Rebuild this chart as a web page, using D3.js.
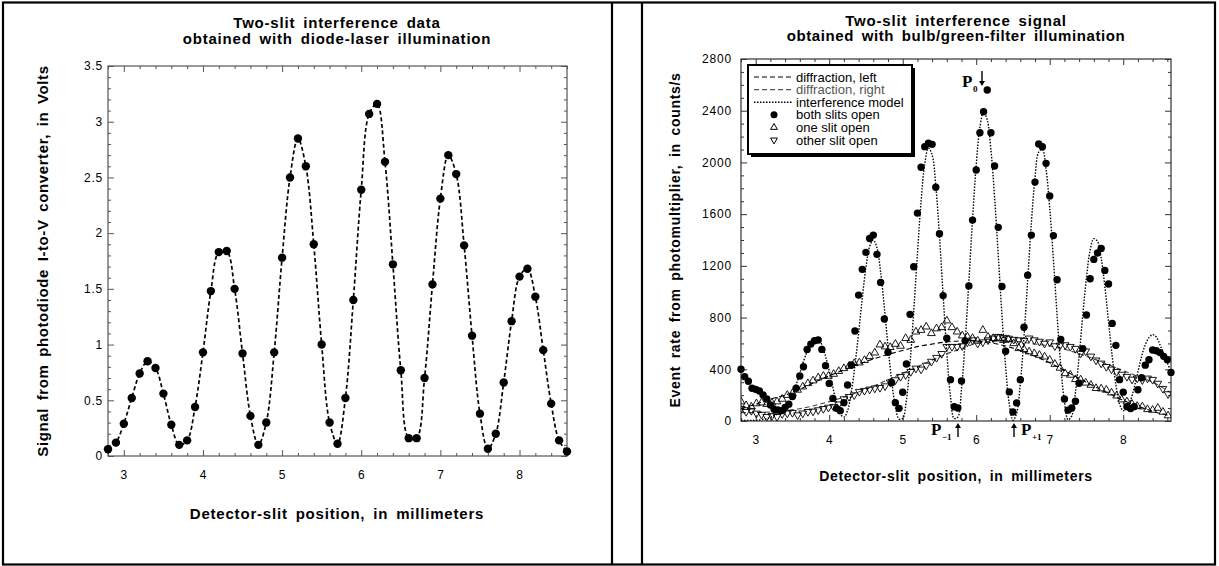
<!DOCTYPE html>
<html>
<head>
<meta charset="utf-8">
<script src="https://cdn.jsdelivr.net/npm/d3@7"></script>
<style>
  body { margin: 0; background: #fff; }
  svg { display: block; font-family: "Liberation Sans", Arial, Helvetica, sans-serif; }
</style>
</head>
<body>
<svg width="1219" height="566"></svg>
<script>
// ---- left panel: diode-laser data (V vs mm) ----
const laserPos = [2.8, 2.9, 3.0, 3.1, 3.2, 3.3, 3.4, 3.5, 3.6, 3.7, 3.8, 3.9,
  4.0, 4.1, 4.2, 4.3, 4.4, 4.5, 4.6, 4.7, 4.8, 4.9, 5.0, 5.1, 5.2, 5.3, 5.4,
  5.5, 5.6, 5.7, 5.8, 5.9, 6.0, 6.1, 6.2, 6.3, 6.4, 6.5, 6.6, 6.7, 6.8, 6.9,
  7.0, 7.1, 7.2, 7.3, 7.4, 7.5, 7.6, 7.7, 7.8, 7.9, 8.0, 8.1, 8.2, 8.3, 8.4,
  8.5, 8.6];
const laserVolts = [0.06, 0.12, 0.29, 0.52, 0.74, 0.85, 0.79, 0.56, 0.28, 0.10,
  0.14, 0.44, 0.93, 1.48, 1.83, 1.84, 1.50, 0.92, 0.36, 0.10, 0.30, 0.93, 1.78,
  2.50, 2.85, 2.60, 1.90, 1.00, 0.30, 0.11, 0.52, 1.40, 2.39, 3.07, 3.16, 2.64,
  1.72, 0.77, 0.16, 0.16, 0.70, 1.54, 2.31, 2.70, 2.53, 1.89, 1.08, 0.38, 0.065,
  0.20, 0.66, 1.21, 1.61, 1.68, 1.43, 0.95, 0.47, 0.14, 0.04];
const laserYTicks = [0, 0.5, 1, 1.5, 2, 2.5, 3, 3.5];
const xTicks = [3, 4, 5, 6, 7, 8];

// ---- right panel: bulb / green filter data (counts/s vs mm) ----
// both slits open [mm, counts/s]
const bothSlits = [[2.80,400],[2.85,343],[2.90,307],[2.95,253],[3.00,245],[3.05,232],
  [3.10,201],[3.15,170],[3.20,124],[3.25,90],[3.30,85],[3.35,80],[3.40,105],[3.45,130],
  [3.50,190],[3.55,253],[3.60,348],[3.65,420],[3.70,554],[3.75,595],[3.80,621],[3.85,626],
  [3.90,554],[3.95,428],[4.00,291],[4.05,175],[4.10,98],[4.15,80],[4.20,142],[4.25,278],
  [4.30,433],[4.35,696],[4.40,974],[4.45,1173],[4.50,1304],[4.55,1412],[4.60,1438],
  [4.65,1289],[4.70,1072],[4.75,789],[4.80,531],[4.85,296],[4.90,142],[4.95,98],
  [5.00,222],[5.05,441],[5.10,825],[5.15,1193],[5.20,1608],[5.25,1963],[5.30,2122],
  [5.35,2148],[5.40,2140],[5.45,1808],[5.50,1448],[5.55,970],[5.60,640],[5.65,320],
  [5.70,110],[5.75,100],[5.80,310],[5.85,620],[5.90,1045],[5.95,1554],[6.00,1941],
  [6.05,2230],[6.10,2392],[6.15,2560],[6.20,2230],[6.25,1972],[6.30,1498],[6.35,1040],
  [6.40,540],[6.45,225],[6.50,70],[6.55,140],[6.60,320],[6.65,725],[6.70,1128],
  [6.75,1438],[6.80,1848],[6.85,2142],[6.90,2121],[6.95,1993],[7.00,1740],[7.05,1434],
  [7.10,1092],[7.15,630],[7.20,170],[7.25,84],[7.30,100],[7.35,153],[7.40,292],
  [7.45,560],[7.50,820],[7.55,1100],[7.60,1250],[7.65,1300],[7.70,1335],[7.75,1165],
  [7.80,1060],[7.85,755],[7.90,585],[7.95,320],[8.00,223],[8.05,111],[8.10,97],
  [8.15,111],[8.20,242],[8.25,334],[8.30,432],[8.35,474],[8.40,549],[8.45,543],
  [8.50,529],[8.55,500],[8.60,474],[8.65,376]];

// one slit open (triangles up)
const oneSlit = [[2.80,150],[2.87,120],[2.94,110],[3.01,135],[3.08,142],[3.15,130],
  [3.22,140],[3.29,150],[3.36,170],[3.43,200],[3.50,214],[3.57,240],[3.64,265],[3.71,291],
  [3.78,312],[3.85,335],[3.92,348],[3.99,348],[4.06,363],[4.13,385],[4.20,407],[4.27,425],
  [4.34,446],[4.41,451],[4.48,470],[4.55,500],[4.62,528],[4.69,590],[4.76,575],[4.83,570],
  [4.90,595],[4.97,580],[5.04,640],[5.11,626],[5.18,690],[5.25,703],[5.32,729],[5.39,678],
  [5.46,715],[5.53,724],[5.60,776],[5.67,724],[5.74,690],[5.81,660],[5.88,652],[5.95,640],
  [6.02,620],[6.09,703],[6.16,650],[6.23,640],[6.30,639],[6.37,625],[6.44,631],[6.51,600],
  [6.58,562],[6.65,555],[6.72,536],[6.79,523],[6.86,510],[6.93,497],[7.00,472],[7.07,440],
  [7.14,410],[7.21,368],[7.28,356],[7.35,322],[7.42,320],[7.49,295],[7.56,278],[7.63,253],
  [7.70,250],[7.77,240],[7.84,219],[7.91,195],[7.98,165],[8.05,150],[8.12,131],[8.19,115],
  [8.26,111],[8.33,90],[8.40,85],[8.47,100],[8.54,70],[8.61,42]];

// other slit open (triangles down)
const otherSlit = [[2.80,95],[2.87,72],[2.94,80],[3.01,59],[3.08,50],[3.15,33],[3.22,40],
  [3.29,33],[3.36,55],[3.43,60],[3.50,64],[3.57,46],[3.64,60],[3.71,72],[3.78,75],[3.85,85],
  [3.92,95],[3.99,105],[4.06,111],[4.13,130],[4.20,170],[4.27,188],[4.34,201],[4.41,227],
  [4.48,235],[4.55,245],[4.62,253],[4.69,258],[4.76,270],[4.83,300],[4.90,317],[4.97,343],
  [5.04,356],[5.11,381],[5.18,407],[5.25,400],[5.32,430],[5.39,460],[5.46,490],[5.53,520],
  [5.60,575],[5.67,575],[5.74,575],[5.81,580],[5.88,610],[5.95,626],[6.02,600],[6.09,610],
  [6.16,626],[6.23,640],[6.30,652],[6.37,645],[6.44,639],[6.51,630],[6.58,626],[6.65,621],
  [6.72,640],[6.79,626],[6.86,615],[6.93,600],[7.00,610],[7.07,580],[7.14,585],[7.21,588],
  [7.28,575],[7.35,560],[7.42,523],[7.49,540],[7.56,500],[7.63,470],[7.70,446],[7.77,420],
  [7.84,400],[7.91,381],[7.98,360],[8.05,343],[8.12,322],[8.19,330],[8.26,317],[8.33,330],
  [8.40,320],[8.47,290],[8.54,250],[8.61,209]];

// model curves
const diffLeft = [[2.8,95],[3.0,130],[3.2,170],[3.4,200],[3.6,245],[3.8,300],[4.0,350],
  [4.2,395],[4.4,440],[4.6,480],[4.8,515],[5.0,545],[5.2,575],[5.4,595],[5.6,612],
  [5.8,620],[6.0,618],[6.2,605],[6.4,580],[6.6,545],[6.8,500],[7.0,450],[7.2,390],
  [7.4,330],[7.6,270],[7.8,215],[8.0,160],[8.2,115],[8.4,75],[8.6,45],[8.65,40]];
const diffRight = [[2.8,65],[3.0,65],[3.2,70],[3.4,80],[3.6,95],[3.8,120],[4.0,150],
  [4.2,185],[4.4,225],[4.6,270],[4.8,320],[5.0,370],[5.2,420],[5.4,470],[5.6,520],
  [5.8,560],[6.0,600],[6.2,615],[6.4,620],[6.6,612],[6.8,595],[7.0,580],[7.2,555],
  [7.4,520],[7.6,480],[7.8,435],[8.0,390],[8.2,345],[8.4,300],[8.6,235],[8.65,215]];
const interference = [[2.80,5],[2.85,5],[2.90,5],[2.95,5],[3.00,5],[3.05,8],[3.10,12],
  [3.15,18],[3.20,28],[3.25,40],[3.30,55],[3.35,75],[3.40,100],[3.45,140],[3.50,200],
  [3.55,280],[3.60,370],[3.65,460],[3.70,540],[3.75,600],[3.80,635],[3.85,635],[3.90,590],
  [3.95,500],[4.00,390],[4.05,260],[4.10,140],[4.15,55],[4.20,30],[4.25,80],[4.30,220],
  [4.35,430],[4.40,680],[4.45,950],[4.50,1190],[4.55,1350],[4.60,1400],[4.65,1340],
  [4.70,1150],[4.75,880],[4.80,580],[4.85,310],[4.90,110],[4.95,15],[5.00,20],[5.05,160],
  [5.10,450],[5.15,850],[5.20,1290],[5.25,1700],[5.30,1990],[5.35,2110],[5.40,2060],
  [5.45,1820],[5.50,1430],[5.55,970],[5.60,530],[5.65,190],[5.70,20],[5.75,30],[5.80,250],
  [5.85,620],[5.90,1080],[5.95,1560],[6.00,1980],[6.05,2270],[6.10,2390],[6.15,2330],
  [6.20,2100],[6.25,1730],[6.30,1280],[6.35,820],[6.40,420],[6.45,130],[6.50,5],[6.55,60],
  [6.60,290],[6.65,650],[6.70,1090],[6.75,1530],[6.80,1880],[6.85,2080],[6.90,2100],
  [6.95,1950],[7.00,1650],[7.05,1250],[7.10,820],[7.15,430],[7.20,150],[7.25,10],[7.30,40],
  [7.35,220],[7.40,500],[7.45,820],[7.50,1110],[7.55,1320],[7.60,1410],[7.65,1390],
  [7.70,1260],[7.75,1040],[7.80,770],[7.85,500],[7.90,280],[7.95,130],[8.00,80],[8.05,100],
  [8.10,160],[8.15,260],[8.20,380],[8.25,500],[8.30,590],[8.35,645],[8.40,668],[8.45,650],
  [8.50,590],[8.55,520],[8.60,450],[8.65,380]];
const bulbYTicks = [0, 400, 800, 1200, 1600, 2000, 2400, 2800];

const legendItems = [
  { label: 'diffraction, left', kind: 'dash', color: '#000' },
  { label: 'diffraction, right', kind: 'dash', color: '#555' },
  { label: 'interference model', kind: 'dot', color: '#000' },
  { label: 'both slits open', kind: 'circle', color: '#000' },
  { label: 'one slit open', kind: 'up', color: '#000' },
  { label: 'other slit open', kind: 'down', color: '#000' },
];

const svg = d3.select('svg');

// outer table frame
svg.append('rect')
  .attr('x', 3).attr('y', 2.5).attr('width', 1212).attr('height', 562)
  .attr('fill', 'none').attr('stroke', '#000').attr('stroke-width', 2.2);
[612, 642].forEach(xx => {
  svg.append('line')
    .attr('x1', xx).attr('x2', xx).attr('y1', 2).attr('y2', 565)
    .attr('stroke', '#000').attr('stroke-width', 2.2);
});

const titleStyle = sel => sel
  .attr('font-weight', 'bold')
  .attr('letter-spacing', '0.8px')
  .attr('word-spacing', '3px')
  .attr('text-anchor', 'middle');

// draws a box with inside ticks on all four sides
function drawFrame(g, x, y, o) {
  const [x0, x1] = x.range();
  const [y1, y0] = y.range();
  const col = o.color;

  g.append('g').attr('transform', `translate(0,${y1})`)
    .call(d3.axisBottom(x).tickValues(o.xMajor).tickSize(-6).tickPadding(o.xPad)
      .tickFormat(d3.format('d')));
  g.append('g').attr('transform', `translate(0,${y1})`)
    .call(d3.axisBottom(x).tickValues(o.xMinor).tickSize(-3).tickFormat(''));
  g.append('g').attr('transform', `translate(0,${y0})`)
    .call(d3.axisTop(x).tickValues(o.xMajor).tickSize(-6).tickFormat(''));
  g.append('g').attr('transform', `translate(0,${y0})`)
    .call(d3.axisTop(x).tickValues(o.xMinor).tickSize(-3).tickFormat(''));

  g.append('g').attr('transform', `translate(${x0},0)`)
    .call(d3.axisLeft(y).tickValues(o.yMajor).tickSize(-6).tickPadding(o.yPad)
      .tickFormat(o.yFormat));
  g.append('g').attr('transform', `translate(${x0},0)`)
    .call(d3.axisLeft(y).tickValues(o.yMinor).tickSize(-3).tickFormat(''));
  g.append('g').attr('transform', `translate(${x1},0)`)
    .call(d3.axisRight(y).tickValues(o.yMajor).tickSize(-6).tickFormat(''));
  g.append('g').attr('transform', `translate(${x1},0)`)
    .call(d3.axisRight(y).tickValues(o.yMinor).tickSize(-3).tickFormat(''));

  g.selectAll('.domain').remove();
  g.selectAll('.tick line').attr('stroke', col).attr('stroke-width', 1);
  g.selectAll('.tick text')
    .attr('font-family', '"Liberation Sans", Arial, sans-serif')
    .attr('font-size', 12).attr('letter-spacing', '0.8px').attr('fill', '#000');

  g.append('rect')
    .attr('x', x0).attr('y', y0).attr('width', x1 - x0).attr('height', y1 - y0)
    .attr('fill', 'none').attr('stroke', col).attr('stroke-width', o.frameWidth);
}

// ================= LEFT PANEL =================
const xL = d3.scaleLinear().domain([2.8, 8.6]).range([108, 567]);
const yL = d3.scaleLinear().domain([0, 3.5]).range([456, 66]);
const gL = svg.append('g');

gL.append('text').call(titleStyle).attr('x', 337).attr('y', 28).attr('font-size', 15)
  .text('Two-slit interference data');
gL.append('text').call(titleStyle).attr('x', 337).attr('y', 44).attr('font-size', 15)
  .text('obtained with diode-laser illumination');

drawFrame(gL, xL, yL, {
  xMajor: xTicks, xMinor: d3.range(2.8, 8.61, 0.2).filter(v => Math.abs(v - Math.round(v)) > 0.01),
  yMajor: laserYTicks, yMinor: d3.range(0, 3.51, 0.1).filter(v => Math.abs(v * 2 - Math.round(v * 2)) > 0.01),
  yFormat: d3.format(''), color: '#555', xPad: 14, yPad: 5, frameWidth: 1.2,
});

const laser = laserPos.map((p, i) => ({ x: p, v: laserVolts[i] }));
gL.append('path')
  .datum(laser)
  .attr('fill', 'none').attr('stroke', '#000').attr('stroke-width', 1.7)
  .attr('stroke-dasharray', '4,2.6')
  .attr('d', d3.line().x(d => xL(d.x)).y(d => yL(d.v)).curve(d3.curveCatmullRom.alpha(0.5)));
gL.selectAll('circle.pt').data(laser).enter().append('circle')
  .attr('class', 'pt')
  .attr('cx', d => xL(d.x)).attr('cy', d => yL(d.v)).attr('r', 4.2).attr('fill', '#000');

gL.append('text').call(titleStyle).attr('x', 337).attr('y', 519).attr('font-size', 15)
  .text('Detector-slit position, in millimeters');
gL.append('text').call(titleStyle).attr('font-size', 15).attr('letter-spacing', '0.6px')
  .attr('transform', 'translate(43,261) rotate(-90)').attr('dy', '0.35em')
  .text('Signal from photodiode I-to-V converter, in Volts');

// ================= RIGHT PANEL =================
const xR = d3.scaleLinear().domain([2.8, 8.65]).range([741, 1171]);
const yR = d3.scaleLinear().domain([0, 2800]).range([421, 59]);
const gR = svg.append('g');

gR.append('text').call(titleStyle).attr('x', 956).attr('y', 26).attr('font-size', 15)
  .text('Two-slit interference signal');
gR.append('text').call(titleStyle).attr('x', 956).attr('y', 41).attr('font-size', 15)
  .attr('letter-spacing', '0.6px')
  .text('obtained with bulb/green-filter illumination');

drawFrame(gR, xR, yR, {
  xMajor: xTicks, xMinor: d3.range(2.8, 8.65, 0.2).filter(v => Math.abs(v - Math.round(v)) > 0.01),
  yMajor: bulbYTicks, yMinor: d3.range(0, 2801, 100).filter(v => v % 400 !== 0),
  yFormat: d3.format('d'), color: '#333', xPad: 14, yPad: 9, frameWidth: 1.2,
});

gR.append('clipPath').attr('id', 'clipR').append('rect')
  .attr('x', 741).attr('y', 59).attr('width', 430).attr('height', 362);
const plotR = gR.append('g').attr('clip-path', 'url(#clipR)');

const lineR = d3.line().x(d => xR(d[0])).y(d => yR(d[1])).curve(d3.curveCatmullRom.alpha(0.5));
plotR.append('path').datum(diffLeft)
  .attr('fill', 'none').attr('stroke', '#000').attr('stroke-width', 1.1)
  .attr('stroke-dasharray', '5,3').attr('d', lineR);
plotR.append('path').datum(diffRight)
  .attr('fill', 'none').attr('stroke', '#444').attr('stroke-width', 1.1)
  .attr('stroke-dasharray', '5,3').attr('d', lineR);
plotR.append('path').datum(interference)
  .attr('fill', 'none').attr('stroke', '#000').attr('stroke-width', 1.4)
  .attr('stroke-dasharray', '1.5,1.5').attr('d', lineR);

const tri = d3.symbol().type(d3.symbolTriangle).size(26);
plotR.selectAll('path.up').data(oneSlit).enter().append('path')
  .attr('class', 'up').attr('d', tri)
  .attr('transform', d => `translate(${xR(d[0])},${yR(d[1])})`)
  .attr('fill', 'none').attr('stroke', '#000').attr('stroke-width', 0.9);
plotR.selectAll('path.down').data(otherSlit).enter().append('path')
  .attr('class', 'down').attr('d', tri)
  .attr('transform', d => `translate(${xR(d[0])},${yR(d[1])}) rotate(180)`)
  .attr('fill', 'none').attr('stroke', '#000').attr('stroke-width', 0.9);
gR.selectAll('circle.pt').data(bothSlits).enter().append('circle')
  .attr('class', 'pt')
  .attr('cx', d => xR(d[0])).attr('cy', d => yR(d[1])).attr('r', 3.7).attr('fill', '#000');

// legend
const lg = gR.append('g');
lg.append('rect').attr('x', 751).attr('y', 68).attr('width', 164).attr('height', 89).attr('fill', '#000');
lg.append('rect').attr('x', 748).attr('y', 65).attr('width', 164).attr('height', 89)
  .attr('fill', '#fff').attr('stroke', '#000').attr('stroke-width', 2);
legendItems.forEach((it, i) => {
  const cy = 77 + i * 12.6;
  if (it.kind === 'dash' || it.kind === 'dot') {
    lg.append('line').attr('x1', 754).attr('x2', 793).attr('y1', cy).attr('y2', cy)
      .attr('stroke', it.color).attr('stroke-width', it.kind === 'dot' ? 1.4 : 1.1)
      .attr('stroke-dasharray', it.kind === 'dot' ? '1.5,1.5' : '5,3');
  } else if (it.kind === 'circle') {
    lg.append('circle').attr('cx', 774).attr('cy', cy).attr('r', 3.5).attr('fill', '#000');
  } else {
    lg.append('path').attr('d', d3.symbol().type(d3.symbolTriangle).size(20))
      .attr('transform', `translate(774,${cy})` + (it.kind === 'down' ? ' rotate(180)' : ''))
      .attr('fill', 'none').attr('stroke', '#000').attr('stroke-width', 1);
  }
  lg.append('text').attr('x', 796).attr('y', cy + 4.5).attr('font-size', 13)
    .attr('fill', it.color).text(it.label);
});

// peak markers
const serif = '"Liberation Serif", "Times New Roman", serif';
function arrow(x0, yTail, yHead) {
  const dir = yHead > yTail ? 1 : -1;
  gR.append('line').attr('x1', x0).attr('x2', x0).attr('y1', yTail).attr('y2', yHead - dir * 3)
    .attr('stroke', '#000').attr('stroke-width', 1.4);
  gR.append('path')
    .attr('d', `M${x0 - 3},${yHead - dir * 5}L${x0 + 3},${yHead - dir * 5}L${x0},${yHead}Z`)
    .attr('fill', '#000');
}
function pLabel(x0, yBase, sub) {
  const t = gR.append('text').attr('x', x0).attr('y', yBase)
    .attr('font-family', serif).attr('font-weight', 'bold').attr('font-size', 17);
  t.append('tspan').text('P');
  t.append('tspan').attr('font-size', 9).attr('dx', 0.5).attr('dy', 5).text(sub);
}
pLabel(962, 87, '0');
arrow(982, 71, 86);
pLabel(931, 435, '\u22121');
arrow(958, 437, 423);
arrow(1014, 437, 423);
pLabel(1021, 435, '+1');

gR.append('text').call(titleStyle).attr('x', 956).attr('y', 481).attr('font-size', 14)
  .attr('letter-spacing', '0.7px')
  .text('Detector-slit position, in millimeters');
gR.append('text').call(titleStyle).attr('font-size', 14).attr('letter-spacing', '0.7px')
  .attr('transform', 'translate(675,240) rotate(-90)').attr('dy', '0.35em')
  .text('Event rate from photomultiplier, in counts/s');
</script>
</body>
</html>
